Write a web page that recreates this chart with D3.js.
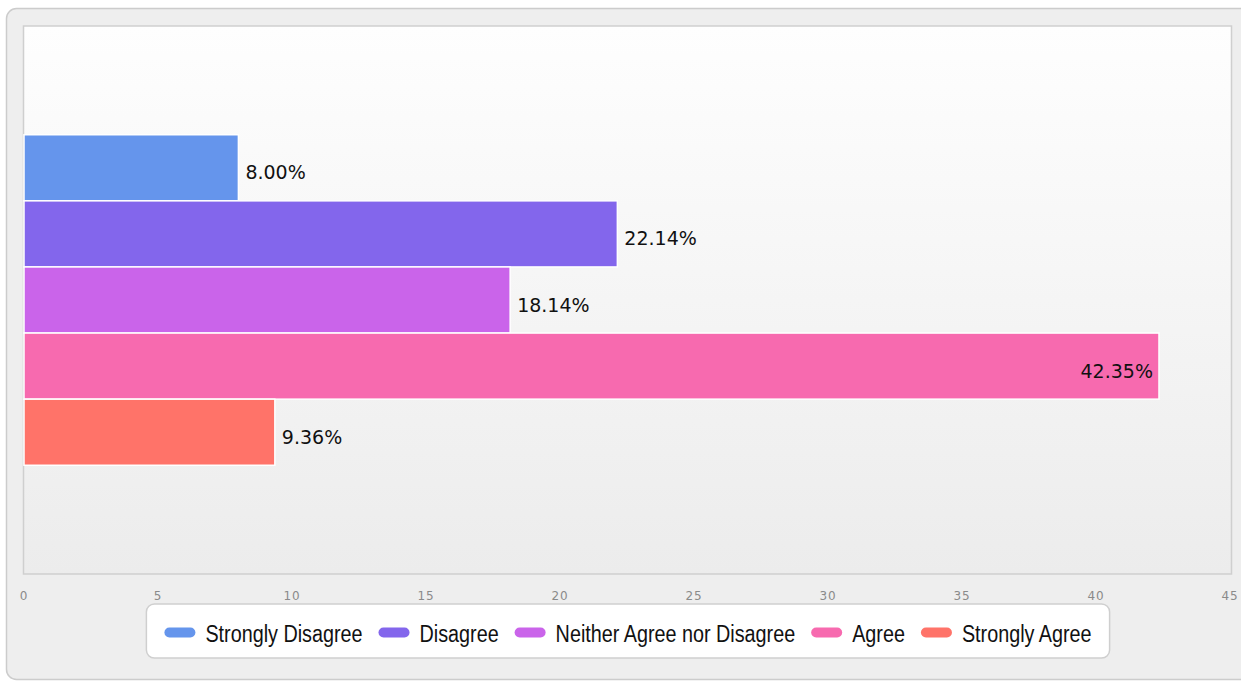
<!DOCTYPE html>
<html>
<head>
<meta charset="utf-8">
<script src="https://cdn.jsdelivr.net/npm/d3@7"></script>
<style>
  html, body { margin: 0; padding: 0; background: #fff; }
</style>
</head>
<body>
<div id="chart"></div>
<script>
// data
const categories = ["Strongly Disagree", "Disagree", "Neither Agree nor Disagree", "Agree", "Strongly Agree"];
const percents   = [8.00, 22.14, 18.14, 42.35, 9.36];
const colors     = ["#6595EC", "#8366EC", "#CA64EA", "#F76AAF", "#FF7369"];
const xTicks     = [0, 5, 10, 15, 20, 25, 30, 35, 40, 45];

document.addEventListener("DOMContentLoaded", function () {
  const W = 1241, H = 682;
  const plot = { left: 24, top: 26, right: 1232, bottom: 574 };

  const svg = d3.select("#chart").append("svg")
    .attr("width", W).attr("height", H);

  const defs = svg.append("defs");
  const grad = defs.append("linearGradient")
    .attr("id", "plotBg").attr("x1", 0).attr("y1", 0).attr("x2", 0).attr("y2", 1);
  grad.append("stop").attr("offset", "0%").attr("stop-color", "#fefefe");
  grad.append("stop").attr("offset", "100%").attr("stop-color", "#ececec");

  // outer frame
  svg.append("rect")
    .attr("x", 6.5).attr("y", 8.5).attr("width", W + 20).attr("height", 671)
    .attr("rx", 10).attr("fill", "#eeeeee")
    .attr("stroke", "#cccccc").attr("stroke-width", 1.5);

  // plot area
  svg.append("rect")
    .attr("x", plot.left - 0.5).attr("y", plot.top)
    .attr("width", plot.right - plot.left).attr("height", plot.bottom - plot.top)
    .attr("fill", "url(#plotBg)")
    .attr("stroke", "#cfcfcf").attr("stroke-width", 1.5);

  const x = d3.scaleLinear().domain([0, 45]).range([24, 1230]);
  const y = d3.scaleBand().domain(categories)
    .range([plot.top, plot.bottom]).paddingInner(0).paddingOuter(1.645);

  const bars = svg.append("g");
  bars.selectAll("rect")
    .data(categories)
    .join("rect")
      .attr("x", x(0))
      .attr("y", d => y(d))
      .attr("width", (d, i) => x(percents[i]) - x(0))
      .attr("height", y.bandwidth())
      .attr("fill", (d, i) => colors[i])
      .attr("stroke", "#ffffff")
      .attr("stroke-width", 1.5);

  // value labels
  const labels = svg.append("g")
    .style("font-family", "'DejaVu Sans', Verdana, sans-serif")
    .style("font-size", "19px")
    .attr("fill", "#111");

  categories.forEach((c, i) => {
    const txt = percents[i].toFixed(2) + "%";
    const t = labels.append("text")
      .attr("y", y(c) + y.bandwidth() / 2 + 11.5)
      .text(txt);
    const w = t.node().getComputedTextLength();
    const end = x(percents[i]);
    if (end + 8 + w > plot.right - 2) {
      t.attr("x", end - 6).attr("text-anchor", "end");
    } else {
      t.attr("x", end + 7);
    }
  });

  // x axis tick labels
  svg.append("g")
    .selectAll("text")
    .data(xTicks)
    .join("text")
      .attr("x", d => x(d))
      .attr("y", 600)
      .attr("text-anchor", "middle")
      .style("font-family", "'DejaVu Sans', Verdana, sans-serif")
      .style("font-size", "12px")
      .style("letter-spacing", "0.8px")
      .attr("fill", "#8a8a8a")
      .text(d => d);

  // legend
  const legend = svg.append("g");
  const legBox = legend.append("rect")
    .attr("y", 604).attr("height", 54).attr("rx", 8)
    .attr("fill", "#ffffff").attr("stroke", "#cfcfcf").attr("stroke-width", 1.5);

  const squeeze = 0.86; // reference legend font is condensed
  const items = legend.append("g");
  let cx = 0;
  categories.forEach((c, i) => {
    const g = items.append("g").attr("transform", `translate(${cx},0)`);
    g.append("rect")
      .attr("x", 0).attr("y", 627.5).attr("width", 31).attr("height", 10)
      .attr("rx", 5).attr("fill", colors[i]);
    const t = g.append("text")
      .attr("x", 0).attr("y", 642)
      .attr("transform", `translate(41,0) scale(${squeeze},1)`)
      .style("font-family", "'Liberation Sans', Arial, sans-serif")
      .style("font-size", "23px")
      .attr("fill", "#111")
      .text(c);
    cx += 41 + t.node().getComputedTextLength() * squeeze + 16;
  });
  const total = cx - 16;
  const pad = 18;
  const boxW = total + pad * 2;
  const boxX = (plot.left + plot.right) / 2 - boxW / 2;
  legBox.attr("x", boxX).attr("width", boxW);
  items.attr("transform", `translate(${boxX + pad},0)`);
});
</script>
</body>
</html>
